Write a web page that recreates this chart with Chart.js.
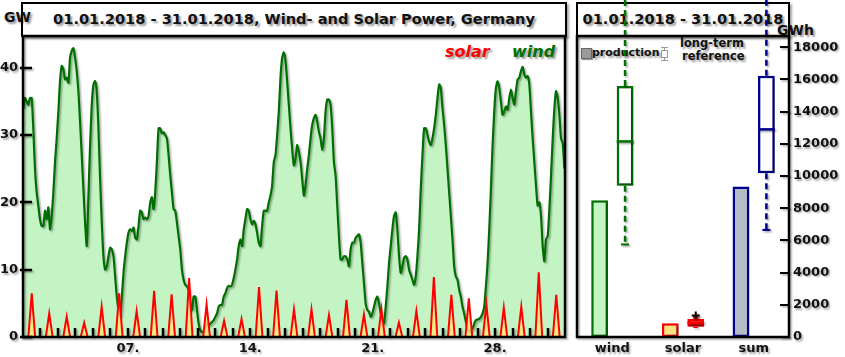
<!DOCTYPE html>
<html><head><meta charset="utf-8">
<script src="https://cdn.jsdelivr.net/npm/chart.js@4.4.1/dist/chart.umd.min.js"></script>
<style>
html,body{margin:0;padding:0;background:#fff;width:845px;height:357px;overflow:hidden;font-family:"DejaVu Sans",sans-serif;}
.box{position:absolute;border:2.5px solid #000;box-sizing:border-box;background:#fff;box-shadow:2px 2px 2px rgba(0,0,0,0.35);}
.ttl{position:absolute;font-weight:bold;font-size:14.6px;text-align:center;white-space:nowrap;color:#111;text-shadow:2px 2px 2px rgba(0,0,0,0.4);}
.lbl{position:absolute;font-weight:bold;white-space:nowrap;color:#111;text-shadow:2px 2px 2px rgba(0,0,0,0.4);}
canvas{position:absolute;top:0;}
</style></head><body>
<div class="box" style="left:21px;top:2px;width:546px;height:35px;"></div>
<div class="ttl" style="left:21px;top:2px;width:546px;line-height:33px;">01.01.2018 - 31.01.2018, Wind- and Solar Power, Germany</div>
<div class="box" style="left:576px;top:2px;width:214px;height:35px;"></div>
<div class="ttl" style="left:576px;top:2px;width:214px;line-height:33px;">01.01.2018 - 31.01.2018</div>
<div class="lbl" style="left:4px;top:9px;font-size:14px;">GW</div>
<div class="lbl" style="left:777px;top:22px;font-size:14px;">GWh</div>
<div class="lbl" style="left:445px;top:42px;font-size:16px;font-style:italic;color:#ff0000;">solar</div>
<div class="lbl" style="left:512px;top:42px;font-size:16px;font-style:italic;color:#007000;">wind</div>
<!-- right legend -->
<div style="position:absolute;left:581px;top:48px;width:9px;height:9px;background:#9a9a9a;border:1px solid #666;box-shadow:1px 1px 1px rgba(0,0,0,0.4);"></div>
<div class="lbl" style="left:592px;top:46px;font-size:11px;">production</div>
<div style="position:absolute;left:664px;top:47px;width:1px;height:13px;background:#999;"></div>
<div style="position:absolute;left:661px;top:47px;width:7px;height:1px;background:#999;"></div>
<div style="position:absolute;left:661px;top:60px;width:7px;height:1px;background:#999;"></div>
<div style="position:absolute;left:661px;top:50px;width:5px;height:6px;background:#fff;border:1px solid #999;"></div>
<div class="lbl" style="left:680px;top:36px;font-size:11.5px;">long-term</div>
<div class="lbl" style="left:682px;top:49px;font-size:11.5px;">reference</div>
<canvas id="c1" width="570" height="357" style="left:0;"></canvas>
<canvas id="c2" width="275" height="357" style="left:570px;"></canvas>
<script>
// ---------- data: left panel (GW) ----------
const hoursInMonth = 744;
const dayLabelHours = [144, 312, 480, 648];
const dayLabels = ['07.', '14.', '21.', '28.'];
const gwTicks = [0, 10, 20, 30, 40];
// wind power, GW, every ~2.29 h
const windStartHour = 0.4;
const windStepHours = 2.2925;
const windGW = [
 34,35.5,35,34.5,35.5,35.5,
 31,25,21.5,19.5,17.5,16.5,16.5,18.75,17.5,19.25,
 16,18,21.5,26,29.5,33.5,38,40.25,39.75,38.25,
 38.5,37.75,41.5,42.5,42.9,41.5,39.5,36.5,32,27,
 22,17,13.5,21,28.5,34.5,37.5,38,36.5,31,
 23.5,17,12,10,10.5,12,13.25,13,12,9,
 6,4,3,6,9.5,12,14,15.5,16,15.75,
 16.25,14.75,14.5,16.5,18.75,18.5,17.5,17.75,17.5,18,
 20,20.75,19,21.5,26,31,31,30.25,30.4,30,
 29.5,27,24,21.5,19,18.75,17,15,13,10,
 8.5,7.75,7.5,7,5,4,6,6,4,2,
 1,0.75,0.75,1.25,2,1.75,2,2.25,2.5,3,
 3.5,4.5,4.75,4.75,6,6.5,7.25,7.6,7.5,7.75,
 8.75,10,11.5,13.5,14.5,13.5,16,17.5,19,18.75,
 17.5,16.75,17.25,16.75,15.5,14,13.5,16.5,18.75,18.75,
 18.75,20,21,22.5,26,27,30,33.5,38.5,41.5,
 42.25,41,38,34.5,31,28,25.5,26.5,28.5,27.5,
 26,23.5,21,22.5,25,27,29.5,31.5,32.5,33,
 32,30.5,29.5,27.75,29.5,33.5,35.25,35.25,34.5,31,
 26,24,19.5,15,11.5,11.5,12,12,11.5,10.5,
 13,14,14,14.75,15,15.25,14,11,8,5,
 4,3.75,3,3.5,4.5,5.5,6,5,3.5,2.5,
 2,4.5,7.5,11,13.5,16,18,18.5,16,12,
 9.5,10.5,11.75,12,11.5,10,9.25,8.5,7.75,9,
 12,16,22,27,31,31,30,29,28.5,29.5,
 31,33,35.5,37.5,37,34,31.5,28.5,25,21.5,
 18,14.5,10.5,9,8.5,7,6,4.5,3.5,2.25,
 1.25,0.75,1,1.25,2,2.5,2.6,2.7,3,3.5,
 4.5,7.5,11,16,22,28.5,33.5,37,38,37,
 35,33,33.5,34.25,33.75,35.5,36.75,35.5,34.5,36.5,
 38.25,38.5,39.5,40.1,39,38.5,38.75,37.5,33.5,29.5,
 26,22.5,19.5,20,18,13.5,11.25,14.5,15,19,
 24,29.5,34,36.5,35.5,33,29.5,28.75,25
];
// solar power: daily noon peak, GW (sunrise / sunset hours)
const solarPeakGW = [6.5,3.5,3.0,2.1,4.5,6.5,3.85,6.85,6.35,8.75,4.85,2.4,2.65,7.4,6.9,
                     4.1,4.1,3.25,5.5,3.35,4.1,2.15,3.85,8.9,6.25,5.75,4.85,4.35,4.5,9.6,6.25];
const solarStartHour = 7.3, solarPeakHour = 12, solarEndHour = 16.7;

// ---------- data: right panel (GWh) ----------
const categories = ['wind', 'solar', 'sum'];
const productionGWh = [8500, 850, 9350];
const refMin = [5750, 560, 6650];
const refQ1 = [9400, 640, 10180];
const refMedian = [12150, 880, 12900];
const refQ3 = [15600, 1120, 16230];
const refMax = [21500, 1330, 21500];
const gwhTicks = [0,2000,4000,6000,8000,10000,12000,14000,16000,18000];

// ---------- build ----------
const windPoints = windGW.map((v, i) => ({x: windStartHour + i * windStepHours, y: v}));
const solarPoints = [{x: 0, y: 0}];
solarPeakGW.forEach((p, d) => {
  solarPoints.push({x: d*24 + solarStartHour, y: 0});
  solarPoints.push({x: d*24 + solarPeakHour, y: p});
  solarPoints.push({x: d*24 + solarEndHour, y: 0});
});
solarPoints.push({x: hoursInMonth, y: 0});

const FONT = {family: 'DejaVu Sans', weight: 'bold', size: 13};
const SH = 'rgba(0,0,0,0.35)';
function shadowOn(c){ c.shadowColor = SH; c.shadowBlur = 2; c.shadowOffsetX = 1.5; c.shadowOffsetY = 1.5; }
function shadowOff(c){ c.shadowColor = 'rgba(0,0,0,0)'; }

const leftDeco = {
  id: 'leftDeco',
  beforeDraw(chart){ shadowOn(chart.ctx); },
  beforeDatasetsDraw(chart){ shadowOff(chart.ctx); },
  beforeDatasetDraw(chart, args){ if (args.index === 1) shadowOn(chart.ctx); },
  afterDatasetDraw(chart){ shadowOff(chart.ctx); },
  afterDatasetsDraw(chart){
    const c = chart.ctx, a = chart.chartArea, xs = chart.scales.x, ys = chart.scales.y;
    c.save(); shadowOn(c);
    c.strokeStyle = '#000'; c.lineWidth = 2.5;
    c.beginPath();
    for (let h = 24; h < hoursInMonth; h += 24) {
      const x = Math.round(xs.getPixelForValue(h));
      c.moveTo(x, a.bottom); c.lineTo(x, a.bottom - 9);
    }
    gwTicks.forEach(v => { const y = Math.round(ys.getPixelForValue(v)); c.moveTo(a.left - 3, y); c.lineTo(a.left + 9, y); });
    c.stroke();
    c.lineWidth = 2.5;
    c.strokeRect(a.left, a.top, a.right - a.left, a.bottom - a.top);
    c.restore();
  }
};

new Chart(document.getElementById('c1'), {
  type: 'line',
  data: { datasets: [
    { label: 'solar', data: solarPoints, borderColor: '#ff0000', backgroundColor: 'rgba(250,232,120,0.85)',
      fill: 'origin', borderWidth: 2, pointRadius: 0, tension: 0 },
    { label: 'wind', data: windPoints, borderColor: '#006e00', backgroundColor: '#c4f4c4',
      fill: 'origin', borderWidth: 2.2, pointRadius: 0, tension: 0.2 }
  ]},
  options: {
    animation: false, responsive: false, devicePixelRatio: 1,
    plugins: { legend: {display: false}, tooltip: {enabled: false} },
    layout: { padding: {top: 36, right: 5, left: 0, bottom: 0} },
    scales: {
      x: { type: 'linear', min: 0, max: hoursInMonth,
        afterBuildTicks: s => { s.ticks = dayLabelHours.map(v => ({value: v})); },
        ticks: { callback: v => dayLabels[dayLabelHours.indexOf(v)], font: FONT, color: '#111', maxRotation: 0, autoSkip: false, padding: 4 },
        grid: {display: false, drawTicks: false}, border: {display: false},
        afterFit: s => { s.height = 20; } },
      y: { min: 0, max: 44.7,
        afterBuildTicks: s => { s.ticks = gwTicks.map(v => ({value: v})); },
        ticks: { font: FONT, color: '#111', padding: 5, callback: v => String(v) },
        grid: {display: false, drawTicks: false}, border: {display: false},
        afterFit: s => { s.width = 23; } }
    }
  },
  plugins: [leftDeco]
});

const boxColor = ['#007000', '#ff0000', '#000090'];
const capColor = ['#007000', '#000000', '#000090'];
const rightDeco = {
  id: 'rightDeco',
  beforeDraw(chart){ shadowOn(chart.ctx); },
  beforeDatasetsDraw(chart){ shadowOn(chart.ctx); },
  afterDatasetsDraw(chart){
    const c = chart.ctx, a = chart.chartArea, ys = chart.scales.y;
    const meta = chart.getDatasetMeta(1);
    c.save(); shadowOn(c);
    meta.data.forEach((el, i) => {
      const x = el.x, hw = el.width / 2;
      c.strokeStyle = boxColor[i];
      c.lineWidth = i === 1 ? 5 : 2.5;
      if (i !== 1) c.setLineDash([6, 4]);
      c.beginPath();
      c.moveTo(x, ys.getPixelForValue(refQ3[i])); c.lineTo(x, ys.getPixelForValue(refMax[i]));
      c.moveTo(x, ys.getPixelForValue(refQ1[i])); c.lineTo(x, ys.getPixelForValue(refMin[i]));
      c.stroke();
      c.setLineDash([]);
      c.lineWidth = 2.5;
      c.beginPath();
      c.moveTo(x - hw, ys.getPixelForValue(refMedian[i])); c.lineTo(x + hw, ys.getPixelForValue(refMedian[i]));
      c.stroke();
      c.strokeStyle = capColor[i];
      c.lineWidth = 2;
      c.beginPath();
      if (i !== 1) {
        const yMin = ys.getPixelForValue(refMin[i]);
        c.moveTo(x - 4, yMin); c.lineTo(x + 4, yMin);
      } else {
        const yMax = ys.getPixelForValue(refMax[i]);
        c.moveTo(x - 4, yMax); c.lineTo(x + 4, yMax);
        c.moveTo(x, yMax - 4); c.lineTo(x, yMax + 3);
      }
      c.stroke();
    });
    c.strokeStyle = '#000'; c.lineWidth = 2;
    c.beginPath();
    gwhTicks.forEach(v => { const y = Math.round(ys.getPixelForValue(v)); c.moveTo(a.right - 9, y); c.lineTo(a.right + 1, y); });
    c.stroke();
    c.lineWidth = 2.5;
    c.strokeRect(a.left, a.top, a.right - a.left, a.bottom - a.top);
    c.restore();
  }
};

new Chart(document.getElementById('c2'), {
  type: 'bar',
  data: { labels: categories, datasets: [
    { label: 'production', data: productionGWh,
      backgroundColor: ['#c4f4c4', '#fae482', '#b4bcc8'], borderColor: ['#007000', '#ff0000', '#000090'],
      borderWidth: 2.5, borderSkipped: false, categoryPercentage: 0.72, barPercentage: 0.66 },
    { label: 'long-term reference', data: refQ1.map((q, i) => [q, refQ3[i]]),
      backgroundColor: ['#ffffff', '#ff0000', '#ffffff'], borderColor: boxColor,
      borderWidth: 2.5, borderSkipped: false, categoryPercentage: 0.72, barPercentage: 0.66 }
  ]},
  options: {
    animation: false, responsive: false, devicePixelRatio: 1,
    plugins: { legend: {display: false}, tooltip: {enabled: false} },
    layout: { padding: {top: 36, left: 7, right: 0, bottom: 0} },
    scales: {
      x: { ticks: { font: FONT, color: '#111', padding: 4 },
        grid: {display: false, drawTicks: false}, border: {display: false},
        afterFit: s => { s.height = 20; } },
      y: { position: 'right', min: 0, max: 18700,
        afterBuildTicks: s => { s.ticks = gwhTicks.map(v => ({value: v})); },
        ticks: { font: FONT, color: '#111', padding: 4, callback: v => String(v) },
        grid: {display: false, drawTicks: false}, border: {display: false},
        afterFit: s => { s.width = 56; } }
    }
  },
  plugins: [rightDeco]
});
</script>
</body></html>
